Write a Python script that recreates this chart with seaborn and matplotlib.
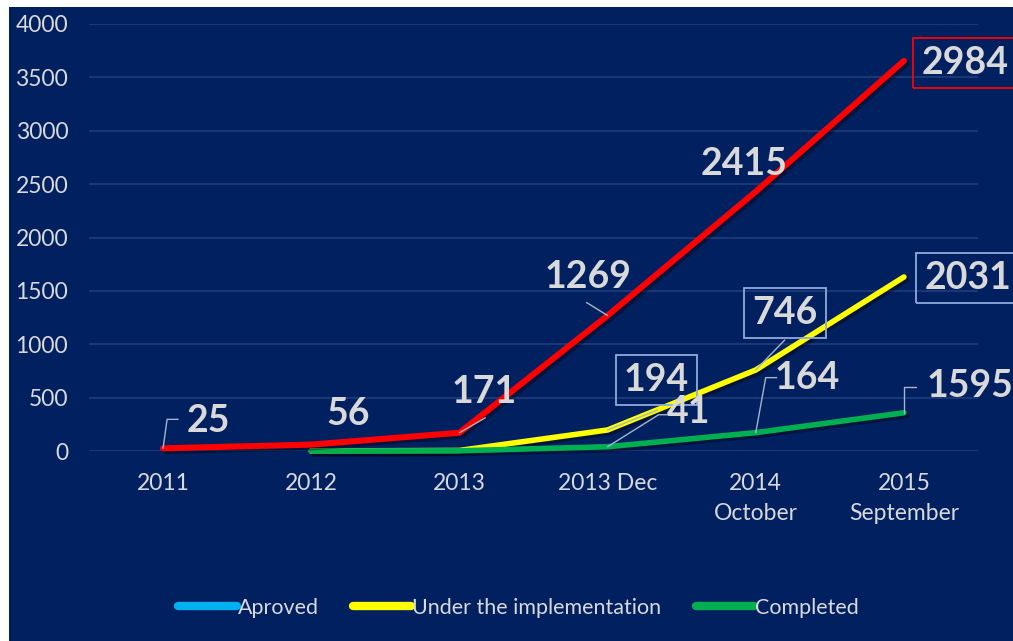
import matplotlib
matplotlib.use("Agg")
import matplotlib.pyplot as plt
import matplotlib.patheffects as pe
from matplotlib.lines import Line2D
from matplotlib.patches import Rectangle
import seaborn as sns
import pandas as pd

# ---- data ----
categories = ["2011", "2012", "2013", "2013 Dec", "2014\nOctober", "2015\nSeptember"]
total_vals = [25, 60, 171, 1269, 2430, 3655]           # red line
under_vals = [None, 0, 5, 197, 759, 1630]               # yellow line
completed_vals = [None, 0, 2, 40, 172, 358]             # green line
series_names = ["Aproved", "Under the implementation", "Completed"]

red_labels = ["25", "56", "171", "1269", "2415", "2984"]
yellow_labels = {3: "194", 4: "746", 5: "2031"}
green_labels = {3: "41", 4: "164", 5: "1595"}

BG = "#002060"
TXT = "#d9d9d9"
GRID = "#1f3d7a"
RED = "#ff0000"
YELLOW = "#ffff00"
GREEN = "#00b050"
BLUE = "#00b0f0"

rows = []
for name, vals in [("total", total_vals), ("under", under_vals), ("completed", completed_vals)]:
    for c, v in zip(categories, vals):
        if v is not None:
            rows.append({"cat": c, "value": v, "series": name})
df = pd.DataFrame(rows)

sns.set_theme(style="dark")
plt.rcParams["font.family"] = ["Lato", "DejaVu Sans"]

fig = plt.figure(figsize=(10.13, 6.41), dpi=100)
fig.patch.set_facecolor("white")
fig.patches.append(Rectangle((9 / 1013, 0), 1, 1 - 7 / 641, transform=fig.transFigure,
                             facecolor=BG, edgecolor="none", zorder=-10))
ax = fig.add_axes([89 / 1013, 1 - 451 / 641, (978 - 89) / 1013, (451 - 24) / 641])
ax.set_facecolor(BG)
ax.patch.set_alpha(0)

shadow = [pe.SimpleLineShadow(offset=(2, -2), shadow_color="black", alpha=0.35), pe.Normal()]

order = {c: i for i, c in enumerate(categories)}
for name, color, lw in [("under", YELLOW, 4.0), ("completed", GREEN, 4.0), ("total", RED, 4.4)]:
    sub = df[df.series == name].copy()
    sub["x"] = sub["cat"].map(order)
    sns.lineplot(data=sub, x="x", y="value", color=color, lw=lw, ax=ax,
                 solid_capstyle="round", solid_joinstyle="round", legend=False)
    ln = ax.lines[-1]
    ln.set_clip_on(False)
    ln.set_path_effects(shadow)

ax.set_xlim(-0.5, len(categories) - 0.5)
ax.set_ylim(0, 4000)
ax.set_yticks(range(0, 4001, 500))
ax.set_xticks(range(len(categories)))
ax.set_xticklabels(categories, linespacing=1.5)
ax.tick_params(axis="both", colors=TXT, labelsize=16.5, length=0)
ax.tick_params(axis="x", pad=16)
ax.tick_params(axis="y", pad=15)
ax.yaxis.grid(True, color=GRID, lw=1.2)
ax.xaxis.grid(False)
for s in ax.spines.values():
    s.set_visible(False)
ax.set_xlabel("")
ax.set_ylabel("")

label_kw = dict(fontsize=27, fontweight="bold", color=TXT, ha="center", va="center",
                textcoords="offset pixels", annotation_clip=False)
lead_kw = dict(color="#a6b4cc", lw=1.0)


def leader(i, v, pts):
    x0, y0 = ax.transData.transform((i, v))
    xs = [x0] + [x0 + p[0] for p in pts]
    ys = [y0] + [y0 + p[1] for p in pts]
    inv = ax.transData.inverted()
    data = [inv.transform((a, b)) for a, b in zip(xs, ys)]
    ax.plot([d[0] for d in data], [d[1] for d in data], clip_on=False, **lead_kw)


fig.canvas.draw()

# red labels
red_offsets = [(45, 27), (37, 31), (25, 41), (-20, 39), (-12, 28), (61, -2)]
red_leaders = {0: [(4, 29), (15, 29)], 2: [(26, 15)], 3: [(-21, 13)]}
for i, (txt, off) in enumerate(zip(red_labels, red_offsets)):
    kw = dict(label_kw)
    if i == 5:
        kw["bbox"] = dict(boxstyle="square,pad=0.22", fc="none", ec=RED, lw=1.3)
    ax.annotate(txt, (i, total_vals[i]), xytext=off, **kw)
    if i in red_leaders:
        leader(i, total_vals[i], red_leaders[i])

box_blue = dict(boxstyle="square,pad=0.22", fc="none", ec="#8faadc", lw=1.3)
yellow_offsets = {3: (49, 50), 4: (29, 57), 5: (64, -1)}
yellow_leaders = {3: [(50, 20)], 4: [(29, 30)]}
for i, txt in yellow_labels.items():
    kw = dict(label_kw)
    kw["bbox"] = box_blue
    ax.annotate(txt, (i, under_vals[i]), xytext=yellow_offsets[i], **kw)
    if i in yellow_leaders:
        leader(i, under_vals[i], yellow_leaders[i])

green_offsets = {3: (81, 35), 4: (51, 55), 5: (66, 27)}
green_leaders = {3: [(51, 32), (60, 32)], 4: [(10, 55), (21, 55)], 5: [(0, 26), (12, 26)]}
for i, txt in green_labels.items():
    ax.annotate(txt, (i, completed_vals[i]), xytext=green_offsets[i], **label_kw)
    leader(i, completed_vals[i], green_leaders[i])

handles = [Line2D([0], [0], color=c, lw=6, solid_capstyle="round") for c in (BLUE, YELLOW, GREEN)]
leg = fig.legend(handles, series_names, loc="center", bbox_to_anchor=(0.512, 1 - 608 / 641),
                 ncol=3, frameon=False, fontsize=15.5, handlelength=2.7, handletextpad=0.05,
                 columnspacing=1.6)
for t in leg.get_texts():
    t.set_color(TXT)

fig.savefig("out.png", dpi=100, facecolor=fig.get_facecolor())
